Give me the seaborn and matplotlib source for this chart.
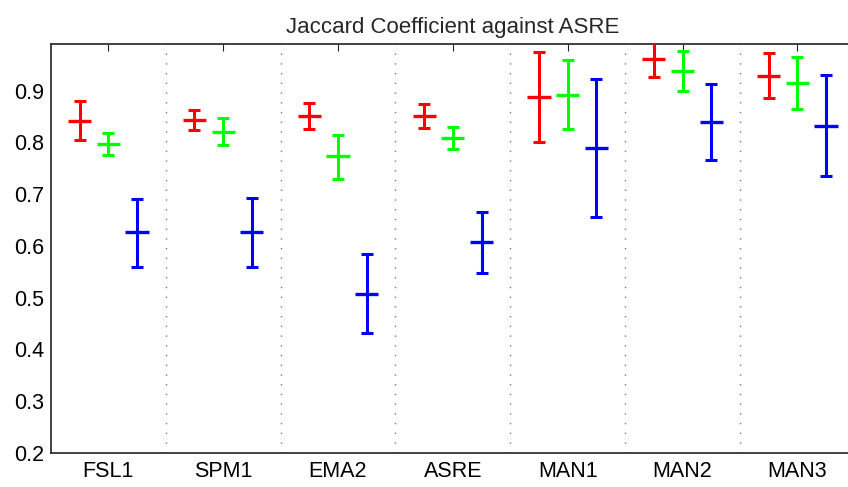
import numpy as np
import pandas as pd
import matplotlib
matplotlib.use("Agg")
import matplotlib.pyplot as plt
import seaborn as sns

# values
groups = ["FSL1", "SPM1", "EMA2", "ASRE", "MAN1", "MAN2", "MAN3"]

red_mean = [0.842, 0.843, 0.850, 0.850, 0.888, 0.961, 0.928]
red_low = [0.805, 0.823, 0.825, 0.827, 0.801, 0.926, 0.885]
red_high = [0.879, 0.863, 0.875, 0.874, 0.975, 0.996, 0.973]

green_mean = [0.796, 0.820, 0.773, 0.808, 0.892, 0.938, 0.914]
green_low = [0.775, 0.794, 0.730, 0.788, 0.825, 0.900, 0.864]
green_high = [0.818, 0.847, 0.814, 0.830, 0.959, 0.976, 0.965]

blue_mean = [0.627, 0.627, 0.507, 0.607, 0.789, 0.839, 0.831]
blue_low = [0.560, 0.560, 0.431, 0.547, 0.655, 0.766, 0.734]
blue_high = [0.691, 0.692, 0.584, 0.666, 0.922, 0.913, 0.930]

series = {
    "red": (red_mean, red_low, red_high, "#ff0000", -0.25),
    "green": (green_mean, green_low, green_high, "#00ff00", 0.0),
    "blue": (blue_mean, blue_low, blue_high, "#0000ff", 0.25),
}

sns.set_style("white")
plt.rcParams["font.family"] = ["Liberation Sans", "DejaVu Sans"]

fig = plt.figure(figsize=(8.48, 4.87), dpi=100)
ax = fig.add_axes([0.060, 0.0698, 0.948, 0.840])

x = np.arange(1, len(groups) + 1)

rows = []
for name, (m, lo, hi, col, off) in series.items():
    m = np.array(m)
    lo = np.array(lo)
    hi = np.array(hi)
    ax.errorbar(x + off, m, yerr=[m - lo, hi - m], fmt="none", ecolor=col,
                elinewidth=2.2, capsize=4.2, capthick=2.2, zorder=3)
    for xi, mi in zip(x + off, m):
        rows.append({"x": xi, "y": mi, "series": name})

df = pd.DataFrame(rows)
sns.scatterplot(data=df, x="x", y="y", hue="series",
                palette={"red": "#ff0000", "green": "#00ff00", "blue": "#0000ff"},
                marker="_", s=280, linewidth=2.4, legend=False, ax=ax, zorder=4)

# dotted separators between groups
for sep in x[:-1] + 0.5:
    ax.axvline(sep, color="#777777", linestyle=(0, (1, 6)), linewidth=1.0, zorder=1)

ax.set_xlim(0.5, len(groups) + 0.5)
ax.set_ylim(0.2, 0.99)
ax.set_xticks(x)
ax.set_xticklabels(groups)
ax.set_yticks(np.arange(0.2, 0.91, 0.1))
ax.set_yticklabels([f"{v:.1f}" for v in np.arange(0.2, 0.91, 0.1)])
ax.set_xlabel("")
ax.set_ylabel("")
ax.tick_params(axis="both", direction="in", length=5, width=0.8,
               labelsize=15.5, top=True, right=True, colors="#222222",
               labelcolor="black")
ax.tick_params(axis="x", pad=6)
ax.tick_params(axis="y", pad=5)
for sp in ax.spines.values():
    sp.set_color("#333333")
    sp.set_linewidth(1.3)

ax.set_title("Jaccard Coefficient against ASRE", fontsize=16, pad=8)

fig.savefig("out.png", dpi=100)
